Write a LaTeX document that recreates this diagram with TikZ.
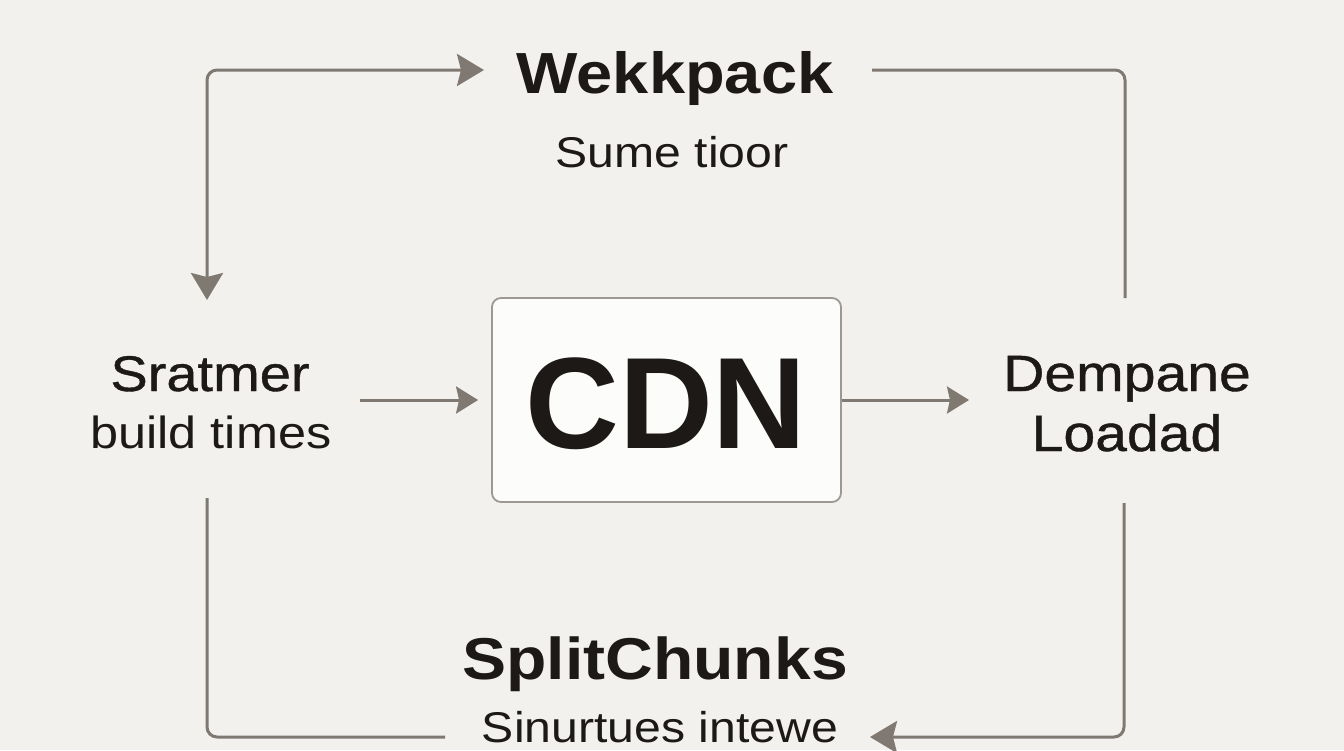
\documentclass[tikz,border=0pt]{standalone}
\usepackage{fontspec}
\setmainfont[FakeStretch=1.12]{Liberation Sans}
\newfontfamily\medfont[FakeStretch=1.12,FakeBold=0.8]{Liberation Sans}
\newfontfamily\cdnfont{Liberation Sans}
\usetikzlibrary{arrows.meta}
\definecolor{bgc}{HTML}{F2F1EE}
\definecolor{linec}{HTML}{7F7972}
\definecolor{txtc}{HTML}{1C1917}
\definecolor{boxc}{HTML}{9C9995}
\definecolor{boxfill}{HTML}{FCFCFB}
\tikzset{
  lbl/.style={inner sep=0pt, anchor=base, text=txtc},
  conn/.style={draw=linec, line width=3pt, rounded corners=10pt},
  bigtip/.style={-{Stealth[length=27pt,width=32pt,inset=4pt]}},
  smalltip/.style={-{Stealth[length=22pt,width=27pt,inset=3pt]}},
  cdnbox/.style={draw=boxc, line width=1.8pt, fill=boxfill, rounded corners=9pt,
    minimum width=349pt, minimum height=204pt, inner sep=0pt}
}
\begin{document}
\begin{tikzpicture}[x=1pt,y=-1pt]
\fill[bgc] (0,0) rectangle (1344,750);
\useasboundingbox (0,0) rectangle (1344,750);

\node[cdnbox] (box) at (666.5,400) {};
\node[lbl] (cdn) at (666,448) {\cdnfont\bfseries\fontsize{130}{130}\selectfont CDN};

\node[lbl] (wek) at (675,93) {\bfseries\fontsize{58}{60}\selectfont Wekkpack};
\node[lbl] (sume) at (672,167) {\fontsize{43}{45}\selectfont Sume tioor};
\node[lbl] (srat) at (210,391) {\medfont\fontsize{50}{52}\selectfont Sratmer};
\node[lbl] (build) at (211,448) {\fontsize{45}{47}\selectfont build times};
\node[lbl] (demp) at (1127,391) {\medfont\fontsize{51}{53}\selectfont Dempane};
\node[lbl] (load) at (1127,451) {\medfont\fontsize{51}{53}\selectfont Loadad};
\node[lbl] (split) at (655,679) {\bfseries\fontsize{59}{61}\selectfont SplitChunks};
\node[lbl] (sinu) at (660,742) {\fontsize{43}{45}\selectfont Sinurtues intewe};

% connector end points
\coordinate (tlA) at (207,300);
\coordinate (tlB) at (484,70);
\coordinate (trA) at (872,70);
\coordinate (trB) at (1125,298);
\coordinate (brA) at (1124,503);
\coordinate (brB) at (870,737);
\coordinate (blA) at (207,498);
\coordinate (blB) at (445,737);
\coordinate (mlA) at (360,400);
\coordinate (mrB) at (969,400);

% loop connectors
\draw[conn, {Stealth[length=27pt,width=32pt,inset=4pt]}-{Stealth[length=27pt,width=32pt,inset=4pt]}]
  (tlA) |- (tlB);
\draw[conn] (trA) -| (trB);
\draw[conn, bigtip] (brA) |- (brB);
\draw[conn] (blA) |- (blB);

% middle connectors
\draw[conn, smalltip, shorten >=13pt] (mlA) -- (box.west);
\draw[conn, smalltip] (box.east) -- (mrB);
\end{tikzpicture}
\end{document}
